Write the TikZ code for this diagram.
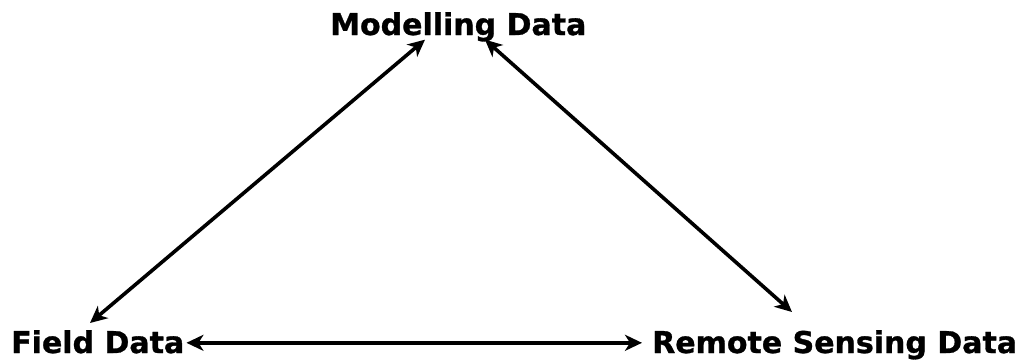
\documentclass[tikz,border=0pt]{standalone}
\usepackage{fontspec}
\setmainfont{DejaVu Sans}
\newfontfamily\lblfont{DejaVu Sans Bold}[FakeBold=1]
\usetikzlibrary{arrows.meta}
\begin{document}
\begin{tikzpicture}[x=1pt,y=1pt,
  lbl/.style={inner sep=0pt, anchor=base west, font=\fontsize{30}{36}\lblfont},
  arr/.style={line width=3.6pt, {Stealth[length=17pt,width=16pt,inset=5pt]}-{Stealth[length=17pt,width=16pt,inset=5pt]}}]
\useasboundingbox (0,0) rectangle (1016,360);
\node[lbl] (mod) at (330,325) {Modelling Data};
\node[lbl] (field) at (11,7) {Field Data};
\node[lbl] (remote) at (652,7) {Remote Sensing Data};
\coordinate (mL) at ([xshift=95pt,yshift=2pt]mod.south west);
\coordinate (mR) at ([xshift=155pt,yshift=2pt]mod.south west);
\coordinate (fT) at ([xshift=79pt,yshift=7pt]field.north west);
\coordinate (rT) at ([xshift=140pt,yshift=18pt]remote.north west);
\draw[arr] (mL) -- (fT);
\draw[arr] (mR) -- (rT);
\draw[arr] ([xshift=2pt,yshift=-1pt]field.east) -- ([xshift=-10pt,yshift=-1pt]field.east -| remote.west);
\end{tikzpicture}
\end{document}
